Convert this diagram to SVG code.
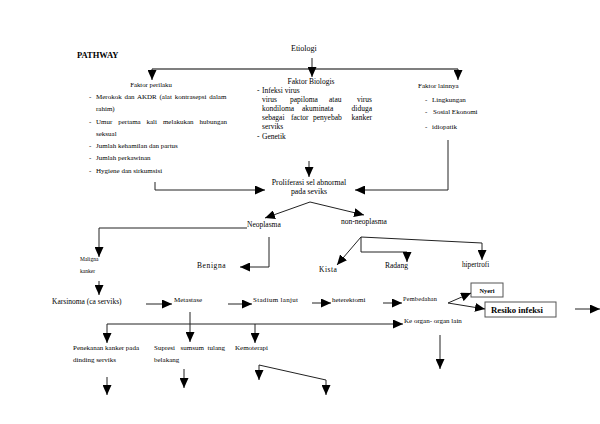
<svg xmlns="http://www.w3.org/2000/svg" width="600" height="424" viewBox="0 0 600 424">
<defs>
<marker id="ah" markerUnits="userSpaceOnUse" markerWidth="10" markerHeight="9" refX="10" refY="4.5" orient="auto">
<path d="M0,0 L10,4.5 L0,9 Z" fill="#000"/>
</marker>
<style>
text{font-family:"Liberation Serif","Times New Roman",serif;fill:#000;}
.s{font-size:7px;}
.m{font-size:7.5px;}
.b{font-size:8px;font-weight:bold;}
.c{stroke:#222;stroke-width:1;fill:none;}
.a{marker-end:url(#ah);}
.box{fill:#fff;stroke:#555;stroke-width:1;}
</style>
</defs>
<rect width="600" height="424" fill="#fff"/>
<g id="title"><text class="b" x="77" y="58" style="font-size:8.5px">PATHWAY</text></g>
<g id="etiologi"><text class="m" x="291" y="51" style="font-size:8px">Etiologi</text></g>
<g id="faktor-perilaku">
<text class="s" x="151" y="87" text-anchor="middle" style="font-size:6.8px">Faktor perilaku</text>
<text class="s" x="89" y="99">-</text><text class="s" x="96" y="99" style="word-spacing:1px">Merokok dan AKDR (alat kontrasepsi dalam</text>
<text class="s" x="96" y="111">rahim)</text>
<text class="s" x="89" y="124">-</text>
<text class="s" x="96" y="124">Umur</text><text class="s" x="118.2" y="124">pertama</text><text class="s" x="146.5" y="124">kali</text><text class="s" x="162.9" y="124">melakukan</text><text class="s" x="227" y="124" text-anchor="end">hubungan</text>
<text class="s" x="96" y="136">seksual</text>
<text class="s" x="89" y="148">-</text><text class="s" x="96" y="148">Jumlah kehamilan dan partus</text>
<text class="s" x="89" y="160">-</text><text class="s" x="96" y="160">Jumlah perkawinan</text>
<text class="s" x="89" y="173">-</text><text class="s" x="96" y="173">Hygiene dan sirkumsisi</text>
</g>
<g id="faktor-biologis">
<text class="m" x="311" y="84" text-anchor="middle">Faktor Biologis</text>
<text class="m" x="257" y="93">-</text><text class="m" x="262" y="93">Infeksi virus</text>
<text class="m" x="262" y="102">virus</text><text class="m" x="290" y="102">papiloma</text><text class="m" x="329" y="102">atau</text><text class="m" x="372" y="102" text-anchor="end">virus</text>
<text class="m" x="262" y="111">kondiloma</text><text class="m" x="302" y="111">akuminata</text><text class="m" x="372" y="111" text-anchor="end">diduga</text>
<text class="m" x="262" y="120">sebagai</text><text class="m" x="291" y="120">factor</text><text class="m" x="313" y="120">penyebab</text><text class="m" x="372" y="120" text-anchor="end">kanker</text>
<text class="m" x="262" y="129">serviks</text>
<text class="m" x="257" y="139">-</text><text class="m" x="262" y="139">Genetik</text>
</g>
<g id="faktor-lainnya">
<text class="s" x="418" y="88">Faktor lainnya</text>
<text class="s" x="425" y="102">-</text><text class="s" x="432" y="102">Lingkungan</text>
<text class="s" x="425" y="114">-</text><text class="s" x="433" y="114">Sosial Ekonomi</text>
<text class="s" x="425" y="129">-</text><text class="s" x="432" y="129">idiopatik</text>
</g>
<g id="proliferasi">
<text class="s" x="309" y="185" text-anchor="middle" style="font-size:7.8px">Proliferasi sel abnormal</text>
<text class="s" x="309" y="194" text-anchor="middle" style="font-size:7.8px">pada seviks</text>
</g>
<g id="neoplasma"><text class="s" x="247" y="227" style="font-size:7.5px">Neoplasma</text></g>
<g id="non-neoplasma"><text class="s" x="341" y="224" style="font-size:7.5px">non-neoplasma</text></g>
<g id="maligna"><text class="s" x="80" y="261" style="font-size:5.5px">Maligna</text><text class="s" x="80" y="273" style="font-size:5.5px">kanker</text></g>
<g id="benigna"><text class="s" x="197" y="268" style="font-size:7.5px;letter-spacing:0.6px">Benigna</text></g>
<g id="kista"><text class="s" x="319" y="272" style="font-size:7.5px;letter-spacing:0.5px">Kista</text></g>
<g id="radang"><text class="s" x="385" y="268" style="font-size:7.5px">Radang</text></g>
<g id="hipertrofi"><text class="s" x="462" y="267" style="font-size:7.2px">hipertrofi</text></g>
<g id="karsinoma"><text class="m" x="52" y="304">Karsinoma (ca serviks)</text></g>
<g id="metastase"><text class="s" x="174" y="302">Metastase</text></g>
<g id="stadium"><text class="s" x="253" y="302" style="letter-spacing:0.3px">Stadium lanjut</text></g>
<g id="heterektomi"><text class="s" x="332" y="302">heterektomi</text></g>
<g id="pembedahan"><text class="s" x="403" y="301" style="font-size:6.3px;letter-spacing:0.2px">Pembedahan</text></g>
<g id="nyeri"><rect class="box" x="471" y="283" width="32" height="14"/><text class="b" x="487" y="293" text-anchor="middle" style="font-size:6.3px">Nyeri</text></g>
<g id="resiko"><rect class="box" x="485" y="302" width="71" height="15"/><text class="b" x="491" y="313" style="font-size:8.7px">Resiko infeksi</text></g>
<g id="ke-organ"><text class="s" x="404" y="323">Ke organ- organ lain</text></g>
<g id="penekanan"><text class="s" x="73" y="350">Penekanan kanker pada</text><text class="s" x="73" y="362">dinding serviks</text></g>
<g id="supresi"><text class="s" x="154" y="350">Supresi</text><text class="s" x="180.5" y="350">sumsum</text><text class="s" x="225" y="350" text-anchor="end">tulang</text><text class="s" x="154" y="362">belakang</text></g>
<g id="kemoterapi"><text class="s" x="235" y="350">Kemoterapi</text></g>
<g id="connectors">
<path class="c" d="M312,58 V69"/>
<path class="c" d="M152,69 H458" style="stroke:#555;stroke-width:1.5"/>
<path class="c a" d="M152,69 V80"/>
<path class="c a" d="M312,69 V77"/>
<path class="c a" d="M458,69 V80"/>
<path class="c a" d="M155,182 V190 H265"/>
<path class="c a" d="M448,140 V190 H355"/>
<path class="c a" d="M309,161 V177"/>
<path class="c a" d="M310,202 L265,218"/>
<path class="c a" d="M310,202 L364,215"/>
<path class="c a" d="M247,228 H99 V257"/>
<path class="c a" d="M269,237 V267 H240"/>
<path class="c a" d="M361,237 L337,265"/>
<path class="c a" d="M361,237 V252 H407 V262"/>
<path class="c a" d="M361,237 L482,243 V260"/>
<path class="c a" d="M99,281 V295"/>
<path class="c a" d="M146,304 H172"/>
<path class="c a" d="M228,304 H252"/>
<path class="c a" d="M312,303 H331"/>
<path class="c a" d="M383,303 H402"/>
<path class="c a" d="M448,303 L471,293"/>
<path class="c a" d="M448,303 L485,309"/>
<path class="c a" d="M575,309 H600"/>
<path class="c a" d="M107,324 H403"/>
<path class="c a" d="M107,324 V343"/>
<path class="c a" d="M190,312 V342"/>
<path class="c a" d="M255,324 V343"/>
<path class="c a" d="M440,335 V369"/>
<path class="c a" d="M107,377 V395"/>
<path class="c a" d="M184,369 V388"/>
<path class="c a" d="M259,365 V380"/>
<path class="c a" d="M259,365 L326,380 V395"/>
</g>
</svg>
